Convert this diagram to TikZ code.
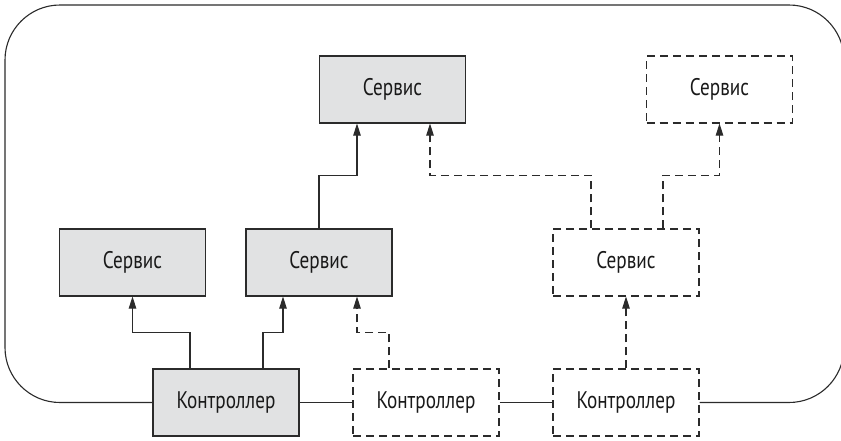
\documentclass[tikz,border=0pt]{standalone}
\usepackage{fontspec}
\setmainfont{PT Sans}[FakeStretch=0.8]
\usetikzlibrary{arrows.meta}
\definecolor{linec}{HTML}{2B2B2B}
\definecolor{boxgray}{HTML}{E1E2E3}
\begin{document}
\begin{tikzpicture}[x=1pt,y=-1pt,
  box/.style={draw=linec, line width=1.1pt, minimum width=146pt, minimum height=67pt,
    inner sep=0pt, font=\fontsize{24}{28}\selectfont, text=black!90},
  solidbox/.style={box, fill=boxgray},
  dashbox/.style={box, dash pattern=on 8pt off 5pt},
  link/.style={draw=linec, line width=1.1pt, -{Triangle[length=12pt,width=7.5pt]}},
  dashlink/.style={link, dash pattern=on 8pt off 5pt},
  wire/.style={draw=linec, line width=1.1pt}]
\useasboundingbox (0,0) rectangle (841,440);
\clip (0,0) rectangle (841,440);

% services
\node[solidbox] (s1) at (392.5,89.5) {Сервис};
\node[dashbox]  (s2) at (719.5,89.5) {Сервис};
\node[solidbox] (s3) at (132.5,262.5) {Сервис};
\node[solidbox] (s4) at (319,262.5) {Сервис};
\node[dashbox]  (s5) at (626,262.5) {Сервис};

% controllers
\node[solidbox] (k1) at (226,402.5) {Контроллер};
\node[dashbox]  (k2) at (426,402.5) {Контроллер};
\node[dashbox]  (k3) at (626,402.5) {Контроллер};

% boundary through the controllers
\draw[wire, rounded corners=55pt] (k1.west) -- (5,402.5) -- (5,5) -- (844,5) -- (844,402.5) -- (k3.east);
\draw[wire] (k1.east) -- (k2.west);
\draw[wire] (k2.east) -- (k3.west);

% calls
\draw[link] ([xshift=-36pt]k1.north) -- ++(0,-36) -| (s3.south);
\draw[link] ([xshift=37pt]k1.north) -- ++(0,-36) -| ([xshift=-36pt]s4.south);
\draw[dashlink] ([xshift=-37pt]k2.north) -- ++(0,-36) -| ([xshift=38pt]s4.south);
\draw[link] (s4.north) -- ++(0,-53) -| ([xshift=-35.5pt]s1.south);
\draw[dashlink] ([xshift=-35pt]s5.north) -- ++(0,-53) -| ([xshift=37.5pt]s1.south);
\draw[dashlink] ([xshift=37pt]s5.north) -- ++(0,-53) -| (s2.south);
\draw[dashlink] (k3.north) -- (s5.south);
\end{tikzpicture}
\end{document}
